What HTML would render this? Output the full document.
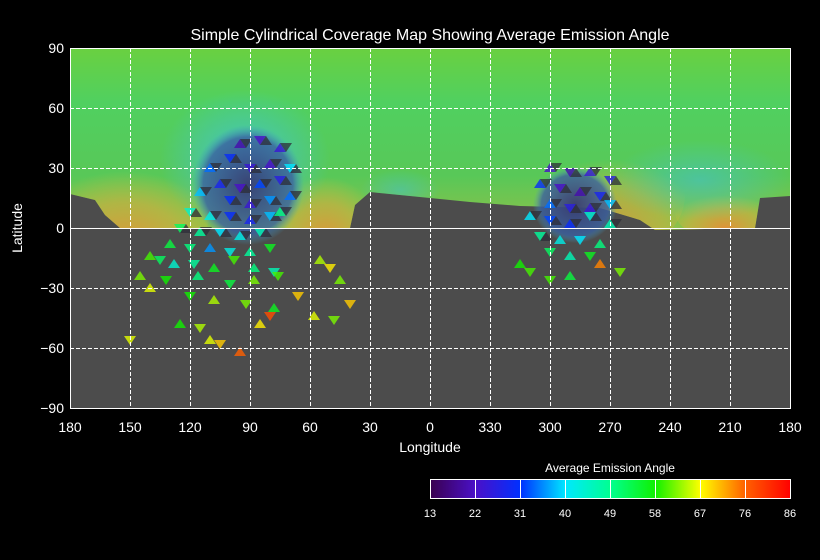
<!DOCTYPE html>
<html><head><meta charset="utf-8"><style>
html,body{margin:0;padding:0;background:#000;}
svg{display:block;font-family:"Liberation Sans",sans-serif;}
</style></head><body>
<svg width="820" height="560" viewBox="0 0 820 560">
<defs>
<linearGradient id="cb" x1="0" x2="1" y1="0" y2="0">
<stop offset="0" stop-color="#3a0050"/><stop offset="0.125" stop-color="#4a10c8"/>
<stop offset="0.25" stop-color="#0030ff"/><stop offset="0.375" stop-color="#00e8ff"/>
<stop offset="0.5" stop-color="#00ff90"/><stop offset="0.625" stop-color="#10f000"/>
<stop offset="0.75" stop-color="#ffff00"/><stop offset="0.875" stop-color="#ff6000"/>
<stop offset="1" stop-color="#ff0000"/></linearGradient>
<linearGradient id="gv" x1="0" x2="0" y1="0" y2="1">
<stop offset="0" stop-color="#6ad040"/><stop offset="0.3" stop-color="#50d060"/>
<stop offset="0.7" stop-color="#58c858"/><stop offset="1" stop-color="#90c048"/></linearGradient>
<radialGradient id="org" cx="0.5" cy="0.8" r="0.6"><stop offset="0" stop-color="#e09038" stop-opacity="1"/><stop offset="0.6" stop-color="#c8b040" stop-opacity="0.7"/><stop offset="1" stop-color="#c8c040" stop-opacity="0"/></radialGradient>
<radialGradient id="cyn" cx="0.5" cy="0.5" r="0.5"><stop offset="0" stop-color="#40c0d8" stop-opacity="0.9"/><stop offset="1" stop-color="#40c8d8" stop-opacity="0"/></radialGradient>
<radialGradient id="blob" cx="0.5" cy="0.5" r="0.5"><stop offset="0" stop-color="#383c70" stop-opacity="0.95"/><stop offset="0.8" stop-color="#3a60a0" stop-opacity="0.8"/><stop offset="1" stop-color="#40a0c0" stop-opacity="0"/></radialGradient>
<clipPath id="pc"><rect x="70" y="48" width="720" height="360"/></clipPath>
<clipPath id="cov"><path d="M70,48 H790 V196 L760,198 L755,228 L655,230 L640,220 L600,208 L520,206 L470,202 L430,198 L370,192 L355,205 L350,228 L120,228 L105,215 L95,200 L70,194 Z"/></clipPath>
</defs>
<text x="430" y="40" fill="#fff" font-size="16" text-anchor="middle">Simple Cylindrical Coverage Map Showing Average Emission Angle</text>
<g clip-path="url(#pc)">
<rect x="70" y="48" width="720" height="360" fill="#4c4c4c"/>
<path fill="url(#gv)" d="M70,48 H790 V196 L760,198 L755,228 L655,230 L640,220 L600,208 L520,206 L470,202 L430,198 L370,192 L355,205 L350,228 L120,228 L105,215 L95,200 L70,194 Z"/>
<g clip-path="url(#cov)">
<ellipse cx="125" cy="210" rx="85" ry="65" fill="url(#org)"/>
<ellipse cx="325" cy="210" rx="50" ry="55" fill="url(#org)"/>
<ellipse cx="610" cy="195" rx="75" ry="60" fill="url(#org)" opacity="0.8"/>
<ellipse cx="725" cy="212" rx="50" ry="28" fill="url(#org)"/>
<ellipse cx="245" cy="160" rx="85" ry="70" fill="url(#cyn)"/>
<ellipse cx="700" cy="180" rx="90" ry="40" fill="url(#cyn)" opacity="0.6"/>
<ellipse cx="400" cy="190" rx="40" ry="20" fill="url(#cyn)" opacity="0.5"/>
</g>
<ellipse cx="248" cy="185" rx="56" ry="60" fill="url(#blob)"/>
<ellipse cx="575" cy="205" rx="42" ry="38" fill="url(#blob)"/>
<g id="patches"></g>
<g id="grid" stroke="#fff" stroke-width="1" stroke-dasharray="4,2"></g>
<line x1="70" x2="790" y1="228.5" y2="228.5" stroke="#fff"/>
</g>
<rect x="70.5" y="48.5" width="720" height="360" fill="none" stroke="#fff"/>
<g id="xt" fill="#fff" font-size="14" text-anchor="middle"></g>
<g id="yt" fill="#fff" font-size="14" text-anchor="end"></g>
<text x="430" y="452" fill="#fff" font-size="14" text-anchor="middle">Longitude</text>
<text x="22" y="228" fill="#fff" font-size="14" text-anchor="middle" transform="rotate(-90 22 228)">Latitude</text>
<text x="610" y="472" fill="#fff" font-size="12" text-anchor="middle">Average Emission Angle</text>
<rect x="430.5" y="479.5" width="360" height="19" fill="url(#cb)" stroke="#fff"/>
<g id="cbt" fill="#fff" font-size="11" text-anchor="middle"></g>
</svg>
<script>
const lonTicks=[180,150,120,90,60,30,0,330,300,270,240,210,180];
const latTicks=[90,60,30,0,-30,-60,-90];
const cbTicks=[13,22,31,40,49,58,67,76,86];
// patches: lon (east), lat, emission angle
const patchLon=[95,85,75,100,110,90,80,70,105,95,85,75,115,100,90,80,70,120,110,100,90,80,75,125,115,105,95,85,130,120,110,100,90,80,140,135,128,118,108,98,88,78,145,132,116,100,88,76,140,120,108,92,78,66,55,50,45,40,58,48,125,115,110,105,95,80,85,150,
300,290,280,270,305,295,285,275,300,290,280,270,310,300,290,280,270,305,295,285,275,300,290,280,315,310,275,265,290,300];
const patchLat=[42,44,40,35,30,30,32,30,22,20,22,24,18,14,12,14,16,8,6,6,4,6,8,0,-2,-2,-4,-2,-8,-10,-10,-12,-12,-10,-14,-16,-18,-18,-20,-16,-20,-22,-24,-26,-24,-28,-26,-24,-30,-34,-36,-38,-40,-34,-16,-20,-26,-38,-44,-46,-48,-50,-56,-58,-62,-44,-48,-56,
30,28,28,24,22,20,18,16,12,10,10,12,6,4,2,6,2,-4,-6,-6,-8,-12,-14,-14,-18,-22,-18,-22,-24,-26];
const patchVal=[20,22,24,30,34,24,22,40,28,22,32,26,38,30,24,36,34,44,42,30,28,38,50,52,48,40,42,46,54,50,36,42,48,56,60,52,44,48,56,60,50,46,62,58,50,54,62,60,66,58,64,62,56,70,64,68,62,70,66,62,58,64,66,70,76,78,68,66,
22,20,24,26,30,22,20,28,34,26,24,38,40,32,30,44,46,48,42,40,50,52,46,56,58,60,74,62,54,60];
const NS='http://www.w3.org/2000/svg';
function xOf(lon){return lon<=180?70+(180-lon)*2:430+(360-lon)*2;}
function yOf(lat){return 228-lat*2;}
const stops=[[13,[58,0,80]],[22,[74,16,200]],[31,[0,48,255]],[40,[0,232,255]],[49,[0,255,144]],[58,[16,240,0]],[67,[255,255,0]],[76,[255,96,0]],[86,[255,0,0]]];
function colorOf(v){for(let i=0;i<stops.length-1;i++){const a=stops[i],b=stops[i+1];if(v<=b[0]){const t=Math.max(0,(v-a[0])/(b[0]-a[0]));return 'rgb('+a[1].map((c,k)=>Math.round(c+(b[1][k]-c)*t)).join(',')+')';}}return 'rgb(255,0,0)';}
const pg=document.getElementById('patches');
for(let i=0;i<patchLon.length;i++){
 const x=xOf(patchLon[i]),y=yOf(patchLat[i]);
 const s=i%2?1:-1;
 const p=document.createElementNS(NS,'polygon');
 p.setAttribute('points',(x-6)+','+(y-4*s)+' '+(x+6)+','+(y-4*s)+' '+x+','+(y+5*s));
 p.setAttribute('fill',colorOf(patchVal[i]));
 p.setAttribute('opacity','0.8');
 
 
 pg.appendChild(p);
 const d=document.createElementNS(NS,'polygon');
 d.setAttribute('points',(x+6)+','+(y-4*s)+' '+(x+12)+','+(y+5*s)+' '+x+','+(y+5*s));
 d.setAttribute('fill','#2e2e38');
 d.setAttribute('opacity','0.75');
 
 
 if(patchLat[i]>-5)pg.appendChild(d);
}
const g=document.getElementById('grid'),xt=document.getElementById('xt'),yt=document.getElementById('yt'),cbt=document.getElementById('cbt');
lonTicks.forEach((l,i)=>{const x=70+i*60;
 if(i>0&&i<lonTicks.length-1){const ln=document.createElementNS(NS,'line');ln.setAttribute('x1',x+0.5);ln.setAttribute('x2',x+0.5);ln.setAttribute('y1',48);ln.setAttribute('y2',408);
 
 
 g.appendChild(ln);}
 const t=document.createElementNS(NS,'text');t.setAttribute('x',x);t.setAttribute('y',432);t.textContent=l;
 
 
 xt.appendChild(t);});
latTicks.forEach(l=>{const y=yOf(l);
 if(l!==90&&l!==-90&&l!==0){const ln=document.createElementNS(NS,'line');ln.setAttribute('x1',70);ln.setAttribute('x2',790);ln.setAttribute('y1',y+0.5);ln.setAttribute('y2',y+0.5);
 
 
 g.appendChild(ln);}
 const t=document.createElementNS(NS,'text');t.setAttribute('x',64);t.setAttribute('y',y+5);t.textContent=l<0?'\u2212'+(-l):l;
 
 
 yt.appendChild(t);});
const svg=document.querySelector('svg');
cbTicks.forEach((v,i)=>{const x=430+i*45;
 if(i>0&&i<cbTicks.length-1){const ln=document.createElementNS(NS,'line');ln.setAttribute('x1',x+0.5);ln.setAttribute('x2',x+0.5);ln.setAttribute('y1',480);ln.setAttribute('y2',498);ln.setAttribute('stroke','#fff');
 
 
 svg.appendChild(ln);}
 const t=document.createElementNS(NS,'text');t.setAttribute('x',x);t.setAttribute('y',517);t.textContent=v;
 
 
 cbt.appendChild(t);});
</script>
</body></html>
